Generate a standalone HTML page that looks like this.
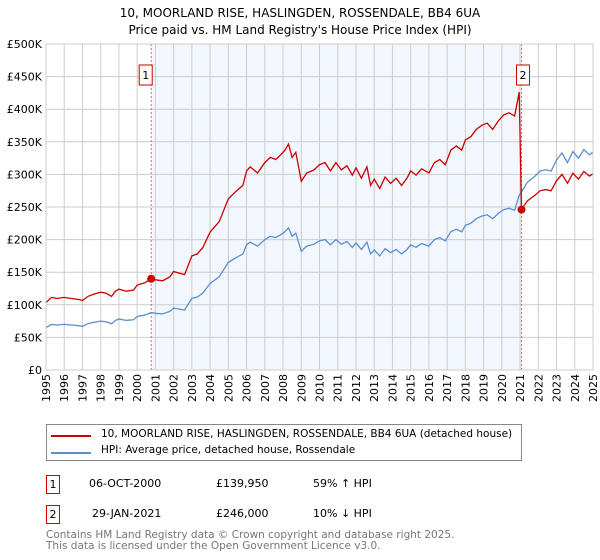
<!DOCTYPE html>
<html><head><meta charset="utf-8"><style>
body{margin:0;background:#fff;font-family:"DejaVu Sans","Liberation Sans",sans-serif}
#wrap{position:relative;width:600px;height:560px;overflow:hidden}
.t{position:absolute;font-size:11px;color:#000;white-space:nowrap}
svg text{font-family:"DejaVu Sans","Liberation Sans",sans-serif}
</style></head><body><div id="wrap">
<svg id="chart" width="600" height="420" style="position:absolute;left:0;top:0"></svg>
<div style="position:absolute;left:46px;top:424px;width:476px;height:37px;border:1px solid #888;box-sizing:border-box">
<div><div style="position:absolute;left:4px;top:10px;width:40px;height:2px;background:#cc0000"></div><span class="t" style="left:54px;top:3px;font-size:10.5px">10, MOORLAND RISE, HASLINGDEN, ROSSENDALE, BB4 6UA (detached house)</span></div>
<div><div style="position:absolute;left:4px;top:27px;width:40px;height:2px;background:#5b8fd1"></div><span class="t" style="left:54px;top:19px;font-size:10.5px">HPI: Average price, detached house, Rossendale</span></div>
</div>
<div>
<div style="position:absolute;left:46px;top:475px;width:14px;height:19px;border:1px solid #cc0000;box-sizing:border-box;font-size:11px;text-align:center;line-height:17px">1</div>
<span class="t" style="left:89px;top:477px">06-OCT-2000</span><span class="t" style="left:216px;top:477px">£139,950</span><span class="t" style="left:313px;top:477px">59% ↑ HPI</span></div>
<div>
<div style="position:absolute;left:46px;top:505px;width:14px;height:19px;border:1px solid #cc0000;box-sizing:border-box;font-size:11px;text-align:center;line-height:17px">2</div>
<span class="t" style="left:92px;top:507px">29-JAN-2021</span><span class="t" style="left:216px;top:507px">£246,000</span><span class="t" style="left:313px;top:507px">10% ↓ HPI</span></div>
<div class="t" style="left:46px;top:530px;font-size:10.5px;color:#777;line-height:11px">Contains HM Land Registry data © Crown copyright and database right 2025.<br>This data is licensed under the Open Government Licence v3.0.</div>
</div>
<script>
const yearTicks=[1995,1996,1997,1998,1999,2000,2001,2002,2003,2004,2005,2006,2007,2008,2009,2010,2011,2012,2013,2014,2015,2016,2017,2018,2019,2020,2021,2022,2023,2024,2025];
const valueTicks=[0,50,100,150,200,250,300,350,400,450,500];
const hpiDates=[1995,1995.3,1995.6,1996,1996.4,1996.8,1997,1997.3,1997.6,1998,1998.3,1998.6,1998.8,1999,1999.4,1999.8,2000,2000.4,2000.77,2001,2001.4,2001.8,2002,2002.4,2002.6,2003,2003.3,2003.6,2004,2004.5,2005,2005.4,2005.8,2006,2006.2,2006.6,2007,2007.3,2007.6,2007.9,2008.1,2008.3,2008.5,2008.7,2009,2009.3,2009.7,2010,2010.3,2010.6,2010.9,2011.2,2011.5,2011.8,2012,2012.3,2012.6,2012.8,2013,2013.3,2013.6,2013.9,2014.2,2014.5,2014.8,2015,2015.3,2015.6,2016,2016.3,2016.6,2016.9,2017.2,2017.5,2017.8,2018,2018.3,2018.6,2018.9,2019.2,2019.5,2019.8,2020.1,2020.4,2020.7,2020.95,2021.08,2021.4,2021.8,2022.1,2022.4,2022.7,2023,2023.3,2023.6,2023.9,2024.2,2024.5,2024.8,2025];
const hpiValues=[65,70,69,70,69,68,67,71,73,75,74,71,76,78,76,77,82,84,88,87,86,90,95,93,92,110,112,118,133,143,165,172,178,192,196,190,200,205,203,208,212,218,205,210,182,190,193,198,200,192,200,193,197,188,195,185,196,178,184,175,186,180,185,178,185,192,188,194,190,200,203,198,212,216,212,222,225,232,236,238,232,240,246,248,245,268,273,288,297,305,307,305,322,333,318,335,325,338,330,334];
const saleDates=[2000.77,2021.08];
const salePrices=[139.95,246];
const L=46,R=593,T=44,B=370,X0=1995,X1=2025,VMAX=500;
const xs=d=>L+(d-X0)/(X1-X0)*(R-L), ys=v=>B-v/VMAX*(B-T);
const NS='http://www.w3.org/2000/svg', svg=document.getElementById('chart');
function mk(tag,attrs,parent){const e=document.createElementNS(NS,tag);for(const k in attrs)e.setAttribute(k,attrs[k]);(parent||svg).appendChild(e);return e;}
function hpiAt(d){for(let i=1;i<hpiDates.length;i++){if(d<=hpiDates[i]){const f=(d-hpiDates[i-1])/(hpiDates[i]-hpiDates[i-1]);return hpiValues[i-1]+f*(hpiValues[i]-hpiValues[i-1]);}}return hpiValues[hpiValues.length-1];}
const title=mk('text',{x:300,y:17,'text-anchor':'middle','font-size':12});title.textContent='10, MOORLAND RISE, HASLINGDEN, ROSSENDALE, BB4 6UA';


const sub=mk('text',{x:300,y:34,'text-anchor':'middle','font-size':12});sub.textContent="Price paid vs. HM Land Registry's House Price Index (HPI)";


const shade=mk('rect',{x:xs(saleDates[0]),y:T,width:xs(saleDates[1])-xs(saleDates[0]),height:B-T,fill:'#f2f6fd'});


yearTicks.forEach(y=>{const g=mk('line',{x1:xs(y),x2:xs(y),y1:T,y2:B,stroke:'#ccc','stroke-width':1});


const t=mk('text',{transform:`translate(${xs(y)+4},${B+4}) rotate(-90)`,'text-anchor':'end','font-size':11});t.textContent=y;

});
valueTicks.forEach(v=>{const g=mk('line',{x1:L,x2:R,y1:ys(v),y2:ys(v),stroke:'#ccc','stroke-width':1});


const t=mk('text',{x:L-4,y:ys(v)+4,'text-anchor':'end','font-size':11});t.textContent='£'+(v?v+'K':'0');

});
saleDates.forEach((d,i)=>{const l=mk('line',{x1:xs(d),x2:xs(d),y1:T,y2:B,stroke:'#e06060','stroke-width':1,'stroke-dasharray':'2,2'});


const bx=xs(d)-(i==0?11:4);
const r=mk('rect',{x:bx-1,y:65,width:13,height:20,fill:'#fff',stroke:'#cc0000'});


const t=mk('text',{x:bx+5.5,y:79,'text-anchor':'middle','font-size':11});t.textContent=i+1;

});
let hp='';hpiDates.forEach((d,i)=>hp+=(i?'L':'M')+xs(d).toFixed(1)+','+ys(hpiValues[i]).toFixed(1));
const hl=mk('path',{d:hp,fill:'none',stroke:'#5b8fd1','stroke-width':1.3});


const r1=salePrices[0]/hpiAt(saleDates[0]), r2=salePrices[1]/hpiAt(saleDates[1]);
let rp='';hpiDates.forEach((d,i)=>{const v=hpiValues[i]*(d<saleDates[1]?r1:r2);rp+=(i?'L':'M')+xs(d).toFixed(1)+','+ys(v).toFixed(1);});
const rl=mk('path',{d:rp,fill:'none',stroke:'#cc0000','stroke-width':1.3});


saleDates.forEach((d,i)=>{const c=mk('circle',{cx:xs(d),cy:ys(salePrices[i]),r:4,fill:'#cc0000'});

});
const ax=mk('rect',{x:L,y:T,width:R-L,height:B-T,fill:'none',stroke:'#ccc'});


</script></body></html>
